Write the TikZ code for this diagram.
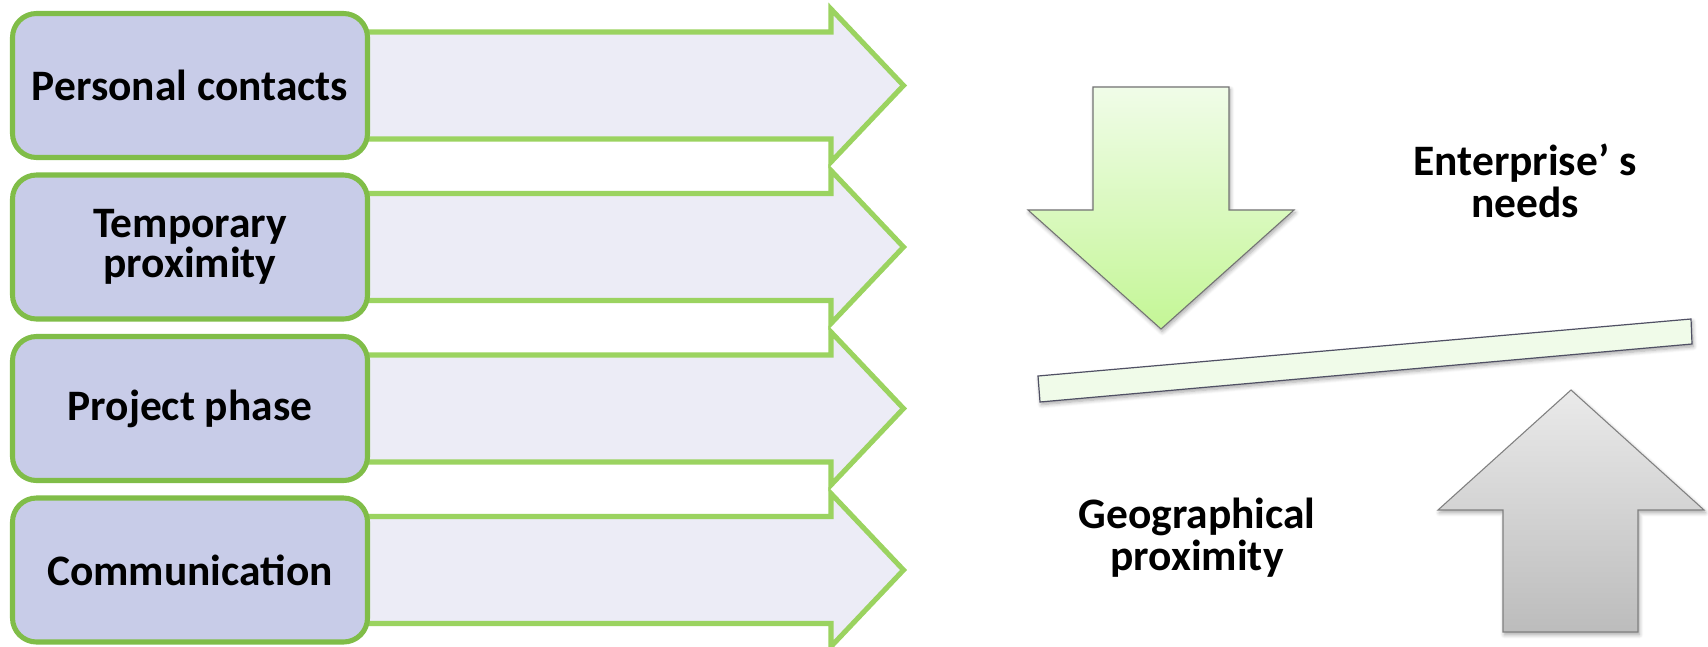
\documentclass[tikz,border=0pt]{standalone}
\usepackage{fontspec}
\setmainfont{Carlito}
\usetikzlibrary{shadows.blur}
\definecolor{boxfill}{RGB}{200,204,232}
\definecolor{boxline}{RGB}{128,189,72}
\definecolor{arrfill}{RGB}{236,236,246}
\definecolor{arrline}{RGB}{155,211,96}
\definecolor{greentop}{RGB}{240,252,232}
\definecolor{greenbot}{RGB}{196,246,150}
\definecolor{greytop}{RGB}{234,234,234}
\definecolor{greybot}{RGB}{188,188,188}
\definecolor{barfill}{RGB}{240,251,233}
\definecolor{barline}{RGB}{80,80,100}
\begin{document}
\begin{tikzpicture}[x=0.75pt,y=-0.75pt,
  rowarrow/.style={fill=arrfill, draw=arrline, line width=3.8pt, line join=miter},
  labelbox/.style={draw=boxline, fill=boxfill, line width=3.8pt, rounded corners=18pt,
    minimum width=266.25pt, minimum height=108pt, inner sep=0pt, align=center,
    font=\bfseries\fontsize{32.6}{30}\selectfont},
  plaintext/.style={inner sep=0pt, align=center, font=\bfseries\fontsize{32.6}{31}\selectfont},
  softshadow/.style={blur shadow={shadow blur steps=6, shadow xshift=1pt, shadow yshift=-2pt, shadow opacity=35, shadow blur radius=3pt}},
  bigarrowdown/.style={draw=black!55, line width=0.8pt, top color=greentop, bottom color=greenbot, softshadow},
  bigarrowup/.style={draw=black!50, line width=0.8pt, top color=greytop, bottom color=greybot, softshadow},
  lever/.style={draw=barline, line width=0.9pt, fill=barfill, softshadow}
]
\useasboundingbox (0,0) rectangle (1708,646);

% row arrows
\foreach \cy in {85.5,247,408.5,570}{
  \draw[rowarrow] (340,{\cy-53.5}) -- (831,{\cy-53.5}) -- (831,{\cy-76.5}) -- (903.5,\cy)
     -- (831,{\cy+76.5}) -- (831,{\cy+53.5}) -- (340,{\cy+53.5}) -- cycle;
}

% label boxes
\node[labelbox] (b1) at (190,85.5) {Personal contacts};
\node[labelbox] (b2) at (190,247) {Temporary\\proximity};
\node[labelbox] (b3) at (190,408.5) {Project phase};
\node[labelbox] (b4) at (190,570) {Communication};

% down arrow (enterprise's needs)
\path[bigarrowdown] (1093,87) -- (1229,87) -- (1229,210) -- (1294,210) -- (1161,329)
   -- (1028,210) -- (1093,210) -- cycle;

% lever bar
\path[lever] (1038,376) -- (1691,319) -- (1692,344) -- (1040,402) -- cycle;

% up arrow (geographical proximity)
\path[bigarrowup] (1503,632) -- (1638,632) -- (1638,510) -- (1704,510) -- (1571,390)
   -- (1438,510) -- (1503,510) -- cycle;

% labels
\node[plaintext, anchor=base] (needs) at (1525,217) {Enterprise’ s\\needs};
\node[plaintext, anchor=base] (geo) at (1197,570) {Geographical\\proximity};
\end{tikzpicture}
\end{document}
